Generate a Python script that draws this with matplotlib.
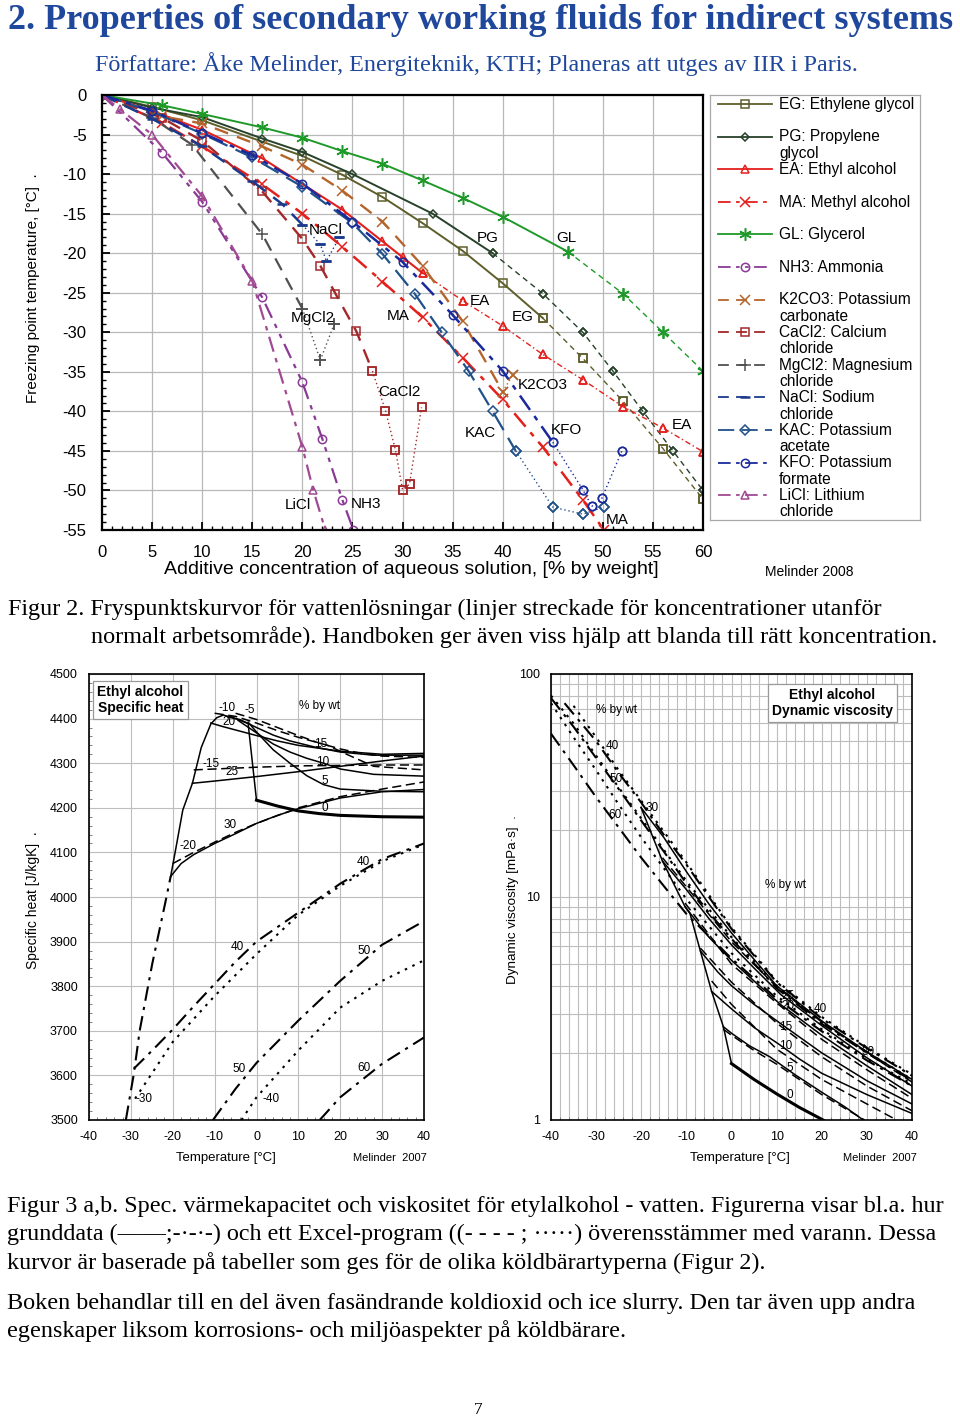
import matplotlib
matplotlib.use('Agg')
import matplotlib.pyplot as plt
import numpy as np
from matplotlib.ticker import MultipleLocator, FixedLocator, LogLocator, NullFormatter, FuncFormatter

# ---------------------------------------------------------------- data: freezing points
EG_c = [0, 5, 10, 20, 24, 28, 32, 36, 40, 44, 48, 52, 56, 60]
EG_T = [0, -1.5, -3.2, -7.7, -10.1, -12.9, -16.2, -19.7, -23.8, -28.2, -33.3, -38.7, -44.7, -51.1]
PG_c = [0, 5, 10, 16, 20, 25, 33, 39, 44, 48, 51, 54, 57, 60]
PG_T = [0, -1.6, -2.8, -5.5, -7.2, -10.0, -15.0, -20.0, -25.1, -30.0, -34.9, -40.0, -45.0, -50.0]
EA_c = [0, 5, 10, 16, 24, 28, 30, 32, 36, 40, 44, 48, 52, 56, 60]
EA_T = [0, -2.0, -4.4, -8.0, -14.5, -18.5, -20.5, -22.5, -26.0, -29.2, -32.8, -36.0, -39.4, -42.1, -45.1]
MA_c = [0, 6, 10, 16, 20, 24, 28, 32, 36, 40, 44, 48, 50.1]
MA_T = [0, -3.5, -6.5, -11.3, -15.0, -19.2, -23.6, -28.1, -33.2, -38.5, -44.5, -51.2, -55.0]
GL_c = [0, 6, 10, 16, 20, 24, 28, 32, 36, 40, 46.5, 52, 56, 60]
GL_T = [0, -1.3, -2.4, -4.1, -5.4, -7.1, -8.7, -10.8, -13.0, -15.4, -19.8, -25.1, -30.0, -34.9]
NH3_c = [0, 6, 10, 16, 20, 22, 24, 25.1]
NH3_T = [0, -7.3, -13.5, -25.6, -36.3, -43.5, -51.2, -55.0]
K2CO3_c = [0, 6, 10, 16, 20, 24, 28, 32, 36, 40, 41]
K2CO3_T = [0, -2.7, -3.6, -6.5, -8.8, -12.1, -16.0, -21.6, -28.6, -37.5, -35.4]
CaCl2_c = [0, 6, 10, 16, 20, 21.8, 23.3, 25.4, 27, 28.3, 29.3, 30, 30.7, 31.9]
CaCl2_T = [0, -2.9, -5.8, -12.2, -18.2, -21.6, -25.1, -29.9, -34.9, -39.9, -44.9, -49.9, -49.2, -39.5]
MgCl2_c = [0, 5, 9, 16, 20, 21.8, 23.2]
MgCl2_T = [0, -2.9, -6.3, -17.6, -27.0, -33.5, -28.9]
NaCl_c = [0, 5, 10, 15, 18, 20, 21.8, 22.4, 23.7]
NaCl_T = [0, -3.0, -6.5, -10.9, -13.8, -16.4, -18.9, -21.0, -18.0]
KAC_c = [0, 5, 10, 15, 20, 25, 28, 31.2, 33.9, 36.6, 39, 41.3, 45, 48, 50.1]
KAC_T = [0, -2.1, -4.9, -7.9, -11.6, -16.2, -20.1, -25.1, -30.0, -34.9, -40.0, -45.0, -52.1, -53.0, -52.1]
KFO_c = [0, 5, 10, 15, 20, 25, 30, 35, 40, 45, 48, 48.9, 49.9, 51.9]
KFO_T = [0, -2.0, -4.8, -7.6, -11.2, -16.0, -21.1, -27.8, -34.9, -43.9, -49.9, -52.0, -51.0, -45.0]
LiCl_c = [0, 1.8, 5, 10, 15, 20, 21.1, 22.3]
LiCl_T = [0, -1.8, -5.0, -12.8, -23.5, -44.5, -50.0, -55.0]

FLUIDS = ['EG', 'PG', 'EA', 'MA', 'GL', 'NH3', 'K2CO3', 'CaCl2', 'MgCl2', 'NaCl', 'KAC', 'KFO', 'LiCl']
FP_DATA = {'EG': (EG_c, EG_T), 'PG': (PG_c, PG_T), 'EA': (EA_c, EA_T), 'MA': (MA_c, MA_T),
           'GL': (GL_c, GL_T), 'NH3': (NH3_c, NH3_T), 'K2CO3': (K2CO3_c, K2CO3_T),
           'CaCl2': (CaCl2_c, CaCl2_T), 'MgCl2': (MgCl2_c, MgCl2_T), 'NaCl': (NaCl_c, NaCl_T),
           'KAC': (KAC_c, KAC_T), 'KFO': (KFO_c, KFO_T), 'LiCl': (LiCl_c, LiCl_T)}
# concentration after which the curve is outside the normal range
FP_NORMAL_MAX = {'EG': 44, 'PG': 39, 'EA': 32, 'MA': 100, 'GL': 46.5, 'NH3': 100, 'K2CO3': 40,
                 'CaCl2': 27, 'MgCl2': 20, 'NaCl': 20, 'KAC': 41.3, 'KFO': 45, 'LiCl': 100}
LEG_LABELS = ['EG: Ethylene glycol', 'PG: Propylene\nglycol', 'EA: Ethyl alcohol', 'MA: Methyl alcohol',
              'GL: Glycerol', 'NH3: Ammonia', 'K2CO3: Potassium\ncarbonate', 'CaCl2: Calcium\nchloride',
              'MgCl2: Magnesium\nchloride', 'NaCl: Sodium\nchloride', 'KAC: Potassium\nacetate',
              'KFO: Potassium\nformate', 'LiCl: Lithium\nchloride']
FP_TEXT = ['NaCl', 'MgCl2', 'MA', 'CaCl2', 'LiCl', 'NH3', 'PG', 'GL', 'EA', 'EG', 'K2CO3', 'KAC', 'KFO', 'EA', 'MA']
FP_TEXT_C = [20.6, 18.8, 28.45, 27.55, 18.27, 24.86, 37.4, 45.3, 36.7, 40.9, 41.5, 36.2, 44.8, 56.9, 50.3]
FP_TEXT_T = [-17.1, -28.2, -27.9, -37.55, -51.8, -51.7, -18.1, -18.1, -26.0, -28.1, -36.7, -42.7, -42.4, -41.7, -53.7]

# ---------------------------------------------------------------- data: specific heat (ethyl alcohol)
CP0_T = [0, 5, 10, 15, 20, 30, 40];                      CP0 = [4217, 4204, 4193, 4187, 4183, 4180, 4179]
CP5_T = [-2, 0, 4, 8, 12, 16, 20, 30, 40];               CP5 = [4392, 4370, 4330, 4300, 4272, 4252, 4242, 4237, 4236]
CP10_T = [-4.4, 0, 4, 8, 12, 16, 20, 28, 40];            CP10 = [4396, 4368, 4343, 4325, 4311, 4300, 4287, 4275, 4271]
CP15_T = [-6.9, -4, 0, 4, 8, 14, 20, 28, 40];            CP15 = [4404, 4398, 4380, 4363, 4350, 4336, 4325, 4318, 4318]
CP20_T = [-10.9, -8, -4, 0, 5, 10, 20, 30, 40];          CP20 = [4390, 4382, 4372, 4362, 4350, 4340, 4327, 4320, 4322]
CP25_T = [-15.3, -10, 0, 10, 20, 30, 40];                CP25 = [4255, 4260, 4270, 4281, 4293, 4305, 4316]
CP30_T = [-20.5, -18, -15, -10, -5, 0, 5, 10, 20, 30, 40]
CP30 = [4046, 4075, 4095, 4120, 4142, 4165, 4183, 4198, 4222, 4236, 4241]
CPB_T = [-20.5, -19.2, -17.6, -15.3, -13.2, -10.9, -9.5, -7.9, -5, -2, 0]
CPB = [4046, 4112, 4195, 4255, 4335, 4388, 4402, 4408, 4400, 4389, 4217]
# excel program (dashed)
CPD1_T = [-20, -15, -10, -5, 0, 10, 20, 30, 40];         CPD1 = [4075, 4100, 4123, 4145, 4165, 4200, 4225, 4242, 4258]
CPD2_T = [-15, -10, 0, 10, 20, 30, 40];                  CPD2 = [4285, 4287, 4291, 4294, 4295, 4296, 4296]
CPD3_T = [-10, -5, 0, 5, 10, 17, 22, 28, 40];            CPD3 = [4412, 4405, 4390, 4373, 4358, 4340, 4318, 4293, 4285]
CPD4_T = [-5, 0, 5, 10, 15, 20, 25, 30, 40];             CPD4 = [4412, 4398, 4380, 4362, 4345, 4332, 4322, 4316, 4313]
# data high concentrations (dash-dot)
CPHB_T = [-31.2, -29.3, -27.9, -24.9, -21.7, -20.5];     CPHB = [3500, 3603, 3700, 3850, 3991, 4046]
CP40_T = [-29.3, -25, -20, -15, -10, -5, 0, 10, 20, 30, 40]
CP40 = [3615, 3655, 3703, 3755, 3805, 3855, 3900, 3965, 4030, 4085, 4120]
CP50_T = [-10.4, -5, 0, 10, 20, 30, 40];                 CP50 = [3500, 3570, 3628, 3723, 3812, 3893, 3946]
CP60_T = [15.1, 20, 30, 40];                             CP60 = [3500, 3551, 3626, 3685]
# excel program (dotted)
CPE40_T = [-29, -26, -20, -10, 0, 10, 20, 30, 40];       CPE40 = [3548, 3590, 3675, 3778, 3872, 3960, 4025, 4080, 4118]
CPE50_T = [-3.6, 0, 10, 20, 30, 40];                     CPE50 = [3500, 3551, 3656, 3752, 3812, 3858]
CP_TEXT = ['-10', '-5', '20', '% by wt', '15', '-15', '25', '10', '5', '0', '30', '-20', '40', '40', '50', '50', '60', '-30', '-40']
CP_TEXT_T = [-8.96, -2.75, -8.24, 10.15, 13.73, -12.78, -7.3, 14.2, 15.6, 15.6, -7.76, -18.27, 24.0, -6.1, 24.0, -5.85, 24.0, -28.78, 1.55]
CP_TEXT_V = [4424, 4419, 4392, 4428, 4343, 4298, 4280, 4303, 4260, 4200, 4161, 4114, 4078, 3888, 3879, 3614, 3617, 3547, 3547]

# ---------------------------------------------------------------- data: dynamic viscosity (ethyl alcohol)
MU0_T = [0, 5, 10, 15, 20.3];                             MU0 = [1.79, 1.52, 1.31, 1.14, 1.0]
MU5_T = [-1.8, 0, 4, 8.5, 14, 20.3, 25, 29.2];            MU5 = [2.62, 2.45, 2.15, 1.92, 1.6, 1.32, 1.15, 1.0]
MU10_T = [-4.4, 0, 5, 10.75, 15, 20, 30, 40];             MU10 = [3.77, 3.15, 2.6, 2.17, 1.88, 1.62, 1.3, 1.07]
MU15_T = [-6.9, -3, 0, 5, 11.85, 20, 30, 40];             MU15 = [5.73, 4.6, 4.0, 3.3, 2.62, 2.0, 1.5, 1.18]
MU20_T = [-10.3, -5, 0, 5, 11, 20, 30, 40];               MU20 = [9.05, 6.6, 5.2, 4.2, 3.28, 2.4, 1.75, 1.3]
MU25_T = [-15.3, -10, -5, 0, 5, 11, 20, 30, 40];          MU25 = [14.5, 10.8, 8.0, 6.1, 4.8, 3.64, 2.65, 1.9, 1.42]
MU30_T = [-20.05, -15, -10, -5, 0, 10, 20, 30, 40];       MU30 = [25.2, 18.5, 13.0, 9.3, 6.9, 4.0, 2.78, 2.02, 1.52]
MUB_T = [-20.05, -15.3, -10.3, -9.2, -6.9, -4.4, -1.8, 0]; MUB = [25.2, 14.5, 9.05, 8.43, 5.73, 3.77, 2.62, 1.79]
# excel program (dashed)
MUD5_T = [-1.8, 0, 5, 10, 20, 29.5];                      MUD5 = [2.55, 2.4, 2.05, 1.78, 1.3, 1.0]
MUD10_T = [-4.4, 0, 10, 20, 30, 36.6];                    MUD10 = [4.2, 3.3, 2.08, 1.52, 1.18, 1.0]
MUD15_T = [-6.9, 0, 10, 20, 30, 40];                      MUD15 = [5.9, 4.15, 2.72, 1.92, 1.42, 1.1]
MUD20_T = [-10.3, 0, 10, 20, 30, 40];                     MUD20 = [9.4, 5.0, 3.35, 2.3, 1.68, 1.25]
MUD25_T = [-15.3, 0, 10, 20, 30, 40];                     MUD25 = [15.0, 6.3, 3.95, 2.75, 2.0, 1.48]
# data high concentrations (dash-dot)
MU40_T = [-37, -30, -25, -20, -15, -10, -5, 0, 10, 20, 30, 40]
MU40 = [74, 50, 36, 26.5, 19, 14, 10, 7.2, 4.15, 2.85, 2.1, 1.58]
MU50_T = [-40, -35, -30, -25, -20, -15, -10, -5, 0, 10, 20, 30, 40]
MU50 = [78, 58, 42, 30.5, 22, 16, 11.5, 8.5, 6.5, 3.9, 2.7, 2.0, 1.5]
MU60_T = [-40, -35, -30, -25, -20, -15, -10, 0, 10, 20, 30, 40]
MU60 = [54, 39, 28, 20.5, 15, 11.2, 8.4, 5.3, 3.5, 2.5, 1.85, 1.42]
# excel program (dotted)
MUE40_T = [-35, -30, -25, -20, -10, 0, 10, 20, 30, 40];   MUE40 = [72, 52, 37, 27, 14.3, 7.3, 4.2, 2.9, 2.12, 1.6]
MUE50_T = [-40, -35, -30, -25, -20, -10, 0, 10, 20, 30, 40]
MUE50 = [80, 60, 43, 31, 22.5, 11.8, 6.6, 4.0, 2.75, 2.02, 1.52]
MUE60_T = [-40, -35, -30, -25, -20, -10, 0, 10, 20, 30, 40]
MUE60 = [74, 52, 37, 26, 18.5, 9.8, 5.6, 3.6, 2.55, 1.88, 1.45]
MU_TEXT = ['% by wt', '40', '50', '30', '60', '% by wt', '25', '40', '20', '15', '10', '30', '5', '0']
MU_TEXT_T = [-30.03, -27.81, -27.15, -18.95, -27.37, 7.42, 10.97, 18.28, 10.97, 10.53, 10.53, 28.92, 12.08, 12.08]
MU_TEXT_V = [68.96, 47.5, 33.8, 25.1, 23.3, 11.3, 3.6, 3.14, 3.25, 2.61, 2.15, 2.02, 1.71, 1.29]

# ---------------------------------------------------------------- styles
FP_STYLE = {
    'EG':    dict(color='#5e5e2c', ls='-', lw=1.4, marker='s', ms=5.5, ext=(0, (4, 3))),
    'PG':    dict(color='#27422a', ls='-', lw=1.4, marker='D', ms=4.5, ext=(0, (4, 3))),
    'EA':    dict(color='#e3201c', ls='-', lw=1.5, marker='^', ms=6, ext=(0, (4, 2, 1, 2))),
    'MA':    dict(color='#e3201c', ls=(0, (7, 3, 2, 3)), lw=1.8, marker='x', ms=7, ext=None),
    'GL':    dict(color='#1f9a2a', ls='-', lw=1.4, marker=(6, 2, 0), ms=9, ext=(0, (4, 3))),
    'NH3':   dict(color='#8a3a96', ls=(0, (7, 3, 2, 3, 2, 3)), lw=1.6, marker='o', ms=6, ext=None),
    'K2CO3': dict(color='#b5652b', ls=(0, (6, 4)), lw=1.7, marker='x', ms=7, ext=(0, (1, 2))),
    'CaCl2': dict(color='#a3282a', ls=(0, (6, 4)), lw=1.7, marker='s', ms=6, ext=(0, (1, 2))),
    'MgCl2': dict(color='#505050', ls=(0, (6, 4)), lw=1.6, marker='+', ms=8, ext=(0, (1, 2))),
    'NaCl':  dict(color='#1c3a8c', ls=(0, (6, 4)), lw=1.8, marker='_', ms=7, ext=(0, (1, 2))),
    'KAC':   dict(color='#21518a', ls=(0, (9, 4)), lw=1.6, marker='D', ms=5, ext=(0, (1, 2))),
    'KFO':   dict(color='#1a2a9c', ls=(0, (7, 3, 2, 3)), lw=1.8, marker='o', ms=6, ext=(0, (1, 2))),
    'LiCl':  dict(color='#a04a92', ls=(0, (7, 3, 2, 3)), lw=1.6, marker='^', ms=6, ext=None),
}

W, H = 960, 1420
plt.rcParams['font.family'] = ['Liberation Sans', 'DejaVu Sans']
plt.rcParams['axes.unicode_minus'] = False
SERIF = ['Liberation Serif', 'DejaVu Serif']
BLUE = '#1f479c'
SERIF_SIZE = 17.4

fig = plt.figure(figsize=(W / 100, H / 100), dpi=100)
fig.patch.set_facecolor('white')


def px_axes(l, t, r, b):
    return fig.add_axes([l / W, 1 - b / H, (r - l) / W, (b - t) / H])


def ftext(x, y, s, **kw):
    return fig.text(x / W, 1 - y / H, s, **kw)


def mstyle(st):
    mew = 1.8 if st['marker'] == '_' else 1.1
    mfc = st['color'] if st['marker'] == '_' else 'none'
    return dict(marker=st['marker'], ms=st['ms'], mfc=mfc, mec=st['color'], mew=mew)


# ---------------------------------------------------------------- texts
ftext(8, 29, '2. Properties of secondary working fluids for indirect systems', family=SERIF,
      fontsize=26, fontweight='bold', color=BLUE, ha='left', va='baseline')
ftext(95, 71, 'Författare: Åke Melinder, Energiteknik, KTH; Planeras att utges av IIR i Paris.',
      family=SERIF, fontsize=SERIF_SIZE, color=BLUE, ha='left', va='baseline')

# ---------------------------------------------------------------- freezing point chart
ax = px_axes(102, 95, 703, 530)
ax.set_xlim(0, 60)
ax.set_ylim(-55, 0)
ax.xaxis.set_major_locator(MultipleLocator(5))
ax.xaxis.set_minor_locator(MultipleLocator(1))
ax.yaxis.set_major_locator(MultipleLocator(5))
ax.yaxis.set_minor_locator(MultipleLocator(1))
ax.grid(True, which='major', color='#b8b8b8', lw=0.9)
ax.set_axisbelow(True)
ax.tick_params(which='both', direction='in', labelsize=12, pad=11)
ax.tick_params(which='major', length=6, width=1.3)
ax.tick_params(which='minor', length=3, width=1.0)
for s in ax.spines.values():
    s.set_linewidth(1.6)

for name in FLUIDS:
    c, t = FP_DATA[name]
    c = np.asarray(c, float)
    t = np.asarray(t, float)
    st = FP_STYLE[name]
    k = int(np.sum(c <= FP_NORMAL_MAX[name]))
    ax.plot(c[:k], t[:k], color=st['color'], ls=st['ls'], lw=st['lw'], clip_on=True, **mstyle(st))
    if k < len(c):
        ext_ls = st['ext'] if st['ext'] is not None else st['ls']
        ax.plot(c[k - 1:], t[k - 1:], color=st['color'], ls=ext_ls, lw=1.0, **mstyle(st))
        ax.plot(c[k:], t[k:], ls='none', **mstyle(st))

for s, cc, tt in zip(FP_TEXT, FP_TEXT_C, FP_TEXT_T):
    ax.text(cc, tt, s, fontsize=11, ha='left', va='center')

ftext(33, 288, 'Freezing point temperature, [°C]  .', rotation=90, fontsize=11, ha='center', va='center')
ftext(411, 570, 'Additive concentration of aqueous solution, [% by weight]', fontsize=14,
      ha='center', va='center')
ftext(809, 572, 'Melinder 2008', fontsize=10, ha='center', va='center')

# legend
lax = px_axes(710, 95, 920, 520)
lax.set_xlim(0, 210)
lax.set_ylim(425, 0)
lax.set_xticks([])
lax.set_yticks([])
for s in lax.spines.values():
    s.set_color('#a8a8a8')
    s.set_linewidth(0.9)
for i, (name, lab) in enumerate(zip(FLUIDS, LEG_LABELS)):
    st = FP_STYLE[name]
    y0 = 9 + 32.6 * i
    lax.plot([8, 62], [y0, y0], color=st['color'], ls=st['ls'], lw=1.3)
    lax.plot([35], [y0], ls='none', **mstyle(st))
    for j, line in enumerate(lab.split('\n')):
        lax.text(69, y0 + 4.8 + 16.4 * j, line, fontsize=11.2, ha='left', va='baseline')

# ---------------------------------------------------------------- captions
ftext(8, 615, 'Figur 2. Fryspunktskurvor för vattenlösningar (linjer streckade för koncentrationer utanför',
      family=SERIF, fontsize=SERIF_SIZE, ha='left', va='baseline')
ftext(91, 643, 'normalt arbetsområde). Handboken ger även viss hjälp att blanda till rätt koncentration.',
      family=SERIF, fontsize=SERIF_SIZE, ha='left', va='baseline')

# ---------------------------------------------------------------- specific heat chart
SOLID = dict(color='black', ls='-', lw=1.1)
DASH = dict(color='black', ls=(0, (6, 3)), lw=1.1)
DASHDOT = dict(color='black', ls=(0, (7, 3, 1.5, 3)), lw=1.5)
DOT = dict(color='black', ls=(0, (1.2, 2.8)), lw=1.5)

bx = px_axes(89, 674, 424, 1120)
bx.set_xlim(-40, 40)
bx.set_ylim(3500, 4500)
bx.xaxis.set_major_locator(MultipleLocator(10))
bx.xaxis.set_minor_locator(MultipleLocator(2))
bx.yaxis.set_major_locator(MultipleLocator(100))
bx.yaxis.set_minor_locator(MultipleLocator(20))
bx.grid(True, which='major', color='#bdbdbd', lw=0.8)
bx.set_axisbelow(True)
bx.tick_params(which='both', direction='in', labelsize=9)
bx.tick_params(which='major', length=0, pad=8)
bx.tick_params(which='minor', length=2.5, width=0.7, color='#808080')
for s in bx.spines.values():
    s.set_linewidth(1.2)

bx.plot(CP0_T, CP0, color='black', lw=2.2)
for tt, vv in [(CP5_T, CP5), (CP10_T, CP10), (CP15_T, CP15), (CP20_T, CP20), (CP25_T, CP25),
               (CP30_T, CP30), (CPB_T, CPB)]:
    bx.plot(tt, vv, **SOLID)
for tt, vv in [(CPD1_T, CPD1), (CPD2_T, CPD2), (CPD3_T, CPD3), (CPD4_T, CPD4)]:
    bx.plot(tt, vv, **DASH)
for tt, vv in [(CPHB_T, CPHB), (CP40_T, CP40), (CP50_T, CP50), (CP60_T, CP60)]:
    bx.plot(tt, vv, **DASHDOT)
for tt, vv in [(CPE40_T, CPE40), (CPE50_T, CPE50)]:
    bx.plot(tt, vv, **DOT)
for s, tt, vv in zip(CP_TEXT, CP_TEXT_T, CP_TEXT_V):
    bx.text(tt, vv, s, fontsize=8.5, ha='left', va='center')
bx.text(0.1537, 0.9417, 'Ethyl alcohol\nSpecific heat', transform=bx.transAxes, fontsize=10,
        fontweight='bold', ha='center', va='center', multialignment='center',
        bbox=dict(boxstyle='square,pad=0.3', fc='white', ec='#9a9a9a', lw=0.9))
ftext(33, 900, 'Specific heat [J/kgK]  .', rotation=90, fontsize=10, ha='center', va='center')
ftext(226, 1158, 'Temperature [°C]', fontsize=9.5, ha='center', va='center')
ftext(390, 1158, 'Melinder  2007', fontsize=8, ha='center', va='center')

# ---------------------------------------------------------------- viscosity chart
vx = px_axes(551, 674, 912, 1120)
vx.set_yscale('log')
vx.set_xlim(-40, 40)
vx.set_ylim(1, 100)
vx.xaxis.set_major_locator(MultipleLocator(10))
vx.xaxis.set_minor_locator(MultipleLocator(2))
vx.yaxis.set_major_locator(FixedLocator([1, 10, 100]))
vx.yaxis.set_minor_locator(LogLocator(base=10, subs=np.arange(2, 10)))
vx.yaxis.set_major_formatter(FuncFormatter(lambda v, p: f'{v:g}'))
vx.yaxis.set_minor_formatter(NullFormatter())
vx.grid(True, which='both', color='#bdbdbd', lw=0.8)
vx.set_axisbelow(True)
vx.tick_params(which='both', direction='in', labelsize=9)
vx.tick_params(which='major', length=0, pad=8)
vx.tick_params(axis='y', which='minor', length=0)
vx.tick_params(axis='x', which='minor', length=2.5, width=0.7, color='#808080')
for s in vx.spines.values():
    s.set_linewidth(1.2)

vx.plot(MU0_T, MU0, color='black', lw=2.2)
for tt, vv in [(MU5_T, MU5), (MU10_T, MU10), (MU15_T, MU15), (MU20_T, MU20), (MU25_T, MU25),
               (MU30_T, MU30), (MUB_T, MUB)]:
    vx.plot(tt, vv, **SOLID)
for tt, vv in [(MUD5_T, MUD5), (MUD10_T, MUD10), (MUD15_T, MUD15), (MUD20_T, MUD20), (MUD25_T, MUD25)]:
    vx.plot(tt, vv, **DASH)
for tt, vv in [(MU40_T, MU40), (MU50_T, MU50), (MU60_T, MU60)]:
    vx.plot(tt, vv, **DASHDOT)
for tt, vv in [(MUE40_T, MUE40), (MUE50_T, MUE50), (MUE60_T, MUE60)]:
    vx.plot(tt, vv, **DOT)
for s, tt, vv in zip(MU_TEXT, MU_TEXT_T, MU_TEXT_V):
    vx.text(tt, vv, s, fontsize=8.5, ha='left', va='center')
vx.text(0.7798, 0.935, 'Ethyl alcohol\nDynamic viscosity', transform=vx.transAxes, fontsize=10,
        fontweight='bold', ha='center', va='center', multialignment='center',
        bbox=dict(boxstyle='square,pad=0.3', fc='white', ec='#9a9a9a', lw=0.9))
ftext(513, 900, 'Dynamic viscosity [mPa·s]  .', rotation=90, fontsize=9.7, ha='center', va='center')
ftext(740, 1158, 'Temperature [°C]', fontsize=9.5, ha='center', va='center')
ftext(880, 1158, 'Melinder  2007', fontsize=8, ha='center', va='center')

# ---------------------------------------------------------------- bottom captions
CAP = ['Figur 3 a,b. Spec. värmekapacitet och viskositet för etylalkohol - vatten. Figurerna visar bl.a. hur',
       'grunddata (——;-·-·-) och ett Excel-program ((- - - - ; ·····) överensstämmer med varann. Dessa',
       'kurvor är baserade på tabeller som ges för de olika köldbärartyperna (Figur 2).',
       'Boken behandlar till en del även fasändrande koldioxid och ice slurry. Den tar även upp andra',
       'egenskaper liksom korrosions- och miljöaspekter på köldbärare.']
CAP_Y = [1212, 1240, 1269, 1309, 1337]
for s, y in zip(CAP, CAP_Y):
    ftext(7, y, s, family=SERIF, fontsize=SERIF_SIZE, ha='left', va='baseline')
ftext(478, 1414, '7', family=SERIF, fontsize=12.5, ha='center', va='baseline')

fig.savefig('out.png', dpi=100, facecolor='white')
